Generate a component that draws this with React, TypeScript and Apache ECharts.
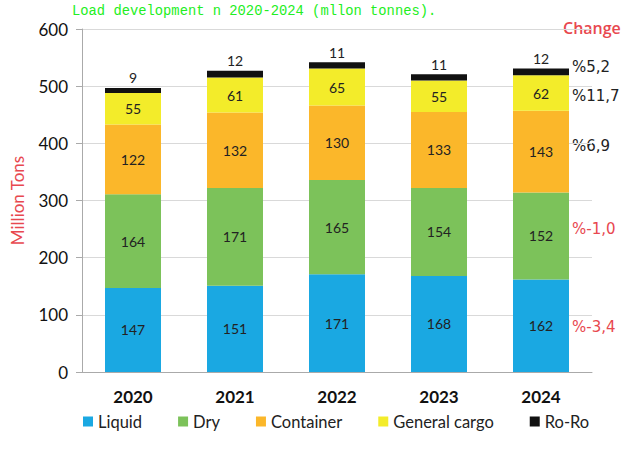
import React, { useEffect, useRef } from "react";
import * as echarts from "echarts";

const years = ["2020", "2021", "2022", "2023", "2024"];
const liquid = [147, 151, 171, 168, 162];
const dry = [164, 171, 165, 154, 152];
const container = [122, 132, 130, 133, 143];
const generalCargo = [55, 61, 65, 55, 62];
const roro = [9, 12, 11, 11, 12];
const yTicks = [0, 100, 200, 300, 400, 500, 600];
const changeLabels = ["%5,2", "%11,7", "%6,9", "%-1,0", "%-3,4"];
const changeColors = ["#222", "#222", "#222", "#e8484f", "#e8484f"];
const changeTop = [68, 97, 147, 230, 328];

const FONT = "Lato, 'Open Sans', sans-serif";

export default function App() {
  const ref = useRef<HTMLDivElement>(null);
  useEffect(() => {
    if (!ref.current) return;
    const chart = echarts.init(ref.current, null, { renderer: "svg" });
    const segLabel = {
      show: true,
      position: "inside" as const,
      color: "#222",
      fontSize: 14,
      fontFamily: FONT,
    };
    const mk = (name: string, data: number[], color: string) => ({
      name,
      type: "bar" as const,
      stack: "t",
      data,
      barWidth: 56,
      itemStyle: { color },
      label: segLabel,
    });
    chart.setOption({
      animation: false,
      backgroundColor: "#fff",
      textStyle: { fontFamily: FONT },
      grid: { left: 82, right: 51, top: 29, bottom: 78 },
      xAxis: {
        type: "category",
        data: years,
        axisLine: { lineStyle: { color: "#aaa" } },
        axisTick: { show: false },
        axisLabel: { color: "#111", fontWeight: "bold", fontSize: 17, margin: 16, fontFamily: FONT },
      },
      yAxis: {
        type: "value",
        min: yTicks[0],
        max: yTicks[yTicks.length - 1],
        interval: 100,
        name: "Million Tons",
        nameLocation: "middle",
        nameGap: 56,
        nameTextStyle: { color: "#e8484f", fontSize: 17, fontFamily: FONT },
        axisLine: { show: true, lineStyle: { color: "#aaa" } },
        axisTick: { show: true, length: 6, lineStyle: { color: "#aaa" } },
        axisLabel: { color: "#111", fontSize: 17, margin: 14, fontFamily: FONT },
        splitLine: { lineStyle: { color: "#d9d9d9" } },
      },
      legend: {
        bottom: 15,
        left: 78,
        itemWidth: 10,
        itemHeight: 10,
        itemGap: 36,
        icon: "rect",
        textStyle: { color: "#222", fontSize: 16.5, fontFamily: FONT },
        data: ["Liquid", "Dry", "Container", "General cargo", "Ro-Ro"],
      },
      series: [
        mk("Liquid", liquid, "#1aa8e2"),
        mk("Dry", dry, "#7cc25a"),
        mk("Container", container, "#fbb72a"),
        mk("General cargo", generalCargo, "#f3ec2a"),
        {
          ...mk("Ro-Ro", roro, "#111"),
          label: { ...segLabel, position: "top" as const, distance: 3 },
        },
      ],
      graphic: [
        {
          type: "text",
          left: 72,
          top: 4,
          style: {
            text: "Load development n 2020-2024 (mllon tonnes).",
            fill: "#22ee22",
            font: "13.8px 'Liberation Mono', 'DejaVu Sans Mono', monospace",
          },
        },
        {
          type: "text",
          left: 563,
          top: 20,
          style: { text: "Change", fill: "#e8484f", font: `600 16px 'Open Sans', sans-serif` },
        },
        ...changeLabels.map((t, i) => ({
          type: "text",
          left: 572,
          top: changeTop[i] - 9,
          style: { text: t, fill: changeColors[i], font: `15px 'DejaVu Sans', sans-serif` },
        })),
      ],
    });
    return () => chart.dispose();
  }, []);
  return <div ref={ref} style={{ width: 643, height: 450, position: "absolute", left: 0, top: 0 }} />;
}
